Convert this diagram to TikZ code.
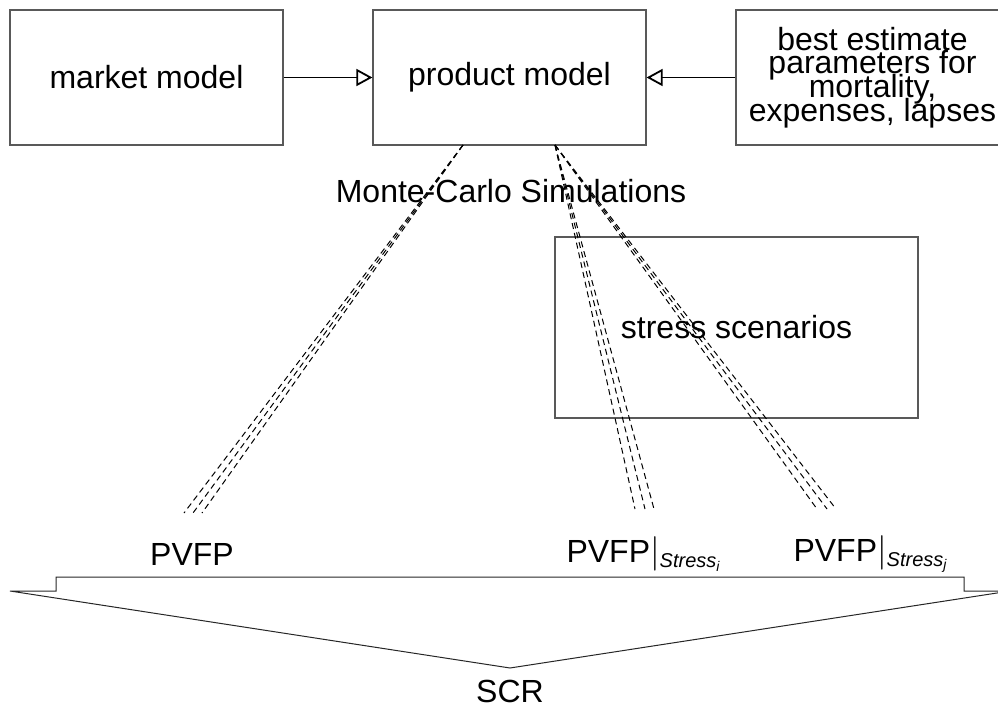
\documentclass[tikz,border=0pt]{standalone}
\usepackage{amsmath}
\usepackage{fontspec}
\setmainfont{Liberation Sans}
\usetikzlibrary{arrows.meta}
\DeclareMathSizes{16}{16}{10}{7}
\newcommand{\mytightlines}{\lineskiplimit=-50pt\relax\lineskip=0pt\relax}
\begin{document}
\begin{tikzpicture}[x=0.5pt,y=-0.5pt,
  every node/.style={font=\fontsize{16}{11.9}\selectfont\mytightlines},
  box/.style={draw=black!65, line width=0.6pt, minimum width=136.5pt, minimum height=67.5pt, inner sep=0pt, align=center},
  feed/.style={-{Triangle[open,length=8pt,width=8.5pt,line width=0.9pt]}, line width=0.9pt},
  sim/.style={dash pattern=on 3pt off 2pt, line width=0.5pt},
  collect/.style={draw=black!85, line width=0.5pt}
]
\useasboundingbox (0,0) rectangle (998,707);

\node[box] (market) at (146.5,77.5) {market model};
\node[box] (prod) at (509.5,77.5) {product model};
\node[box] (param) at (872.5,77.5) {best estimate\\parameters for\\mortality,\\expenses, lapses};
\draw[feed] (market) -- (prod);
\draw[feed] (param) -- (prod);

\node (mc) at (511,191) {Monte-Carlo Simulations};
\node[box, minimum width=181.5pt, minimum height=90.5pt] (stress) at (736.5,327.5) {stress scenarios};

\coordinate (s1) at (463,145);
\coordinate (s2) at (555,145);
\coordinate (e1a) at (184,513);
\coordinate (e1b) at (193,513);
\coordinate (e1c) at (202,513);
\coordinate (e2a) at (635,509);
\coordinate (e2b) at (645,509);
\coordinate (e2c) at (654,509);
\coordinate (e3a) at (817,509);
\coordinate (e3b) at (827,509);
\coordinate (e3c) at (836,509);

\foreach \e in {e1a,e1b,e1c} \draw[sim] (s1) -- (\e);
\foreach \e in {e2a,e2b,e2c,e3a,e3b,e3c} \draw[sim] (s2) -- (\e);

\node (pv) at (192,554) {PVFP};
\node (pvi) at (644,554) {PVFP$|_{\text{\itshape Stress}_{\text{\itshape i}}}$};
\node (pvj) at (871,554) {PVFP$|_{\text{\itshape Stress}_{\text{\itshape j}}}$};

\draw[collect] (10,591) -- (56,591) -- (56,577) -- (964,577) -- (964,591) -- (1010,591) -- (510,668) -- cycle;
\node (scr) at (510,691) {SCR};
\end{tikzpicture}
\end{document}
